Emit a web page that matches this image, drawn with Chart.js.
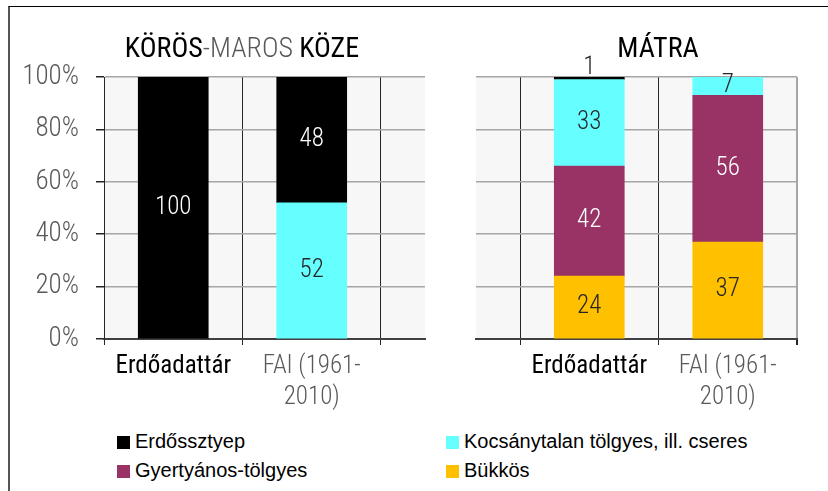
<!DOCTYPE html>
<html>
<head>
<meta charset="utf-8">
<script src="https://cdn.jsdelivr.net/npm/chart.js@4.4.1/dist/chart.umd.min.js"></script>
<style>
  body { margin: 0; background: #fff; }
  #page { position: relative; width: 828px; height: 491px; overflow: hidden; background: #fff; }
  .frame { position: absolute; left: 8px; top: 6px; width: 840px; height: 500px; border-left: 2px solid #555; border-top: 1.5px solid #000; }
  .box { position: absolute; top: 0; }
  .title { position: absolute; top: 34px; font-family: 'Roboto Condensed', Roboto; font-size: 28px; line-height: 28px; white-space: nowrap; transform: translateX(-50%); color: #000; font-weight: 400; }
  .title .light { font-weight: 300; color: #595959; }
  .item { position: absolute; font-family: 'Liberation Sans', Arial; font-size: 20px; line-height: 20px; color: #000; white-space: nowrap; }
  .item .sq { position: absolute; left: 0; top: 0; width: 13px; height: 13px; }
  .item .tx { position: absolute; left: 18px; top: -5px; }
</style>
</head>
<body>
<div id="page">
  <div class="frame"></div>
  <div class="box" style="left:0"><canvas id="koros" width="440" height="425"></canvas></div>
  <div class="box" style="left:430px"><canvas id="matra" width="398" height="425"></canvas></div>
  <div class="title" style="left:242px">KÖRÖS<span class="light">-MAROS </span>KÖZE</div>
  <div class="title" style="left:658px">MÁTRA</div>
  <div id="legend"></div>
</div>
<script>
// categories and tick labels
var categories = ['Erdőadattár', 'FAI (1961-2010)'];
var tickLabels = [['Erdőadattár'], ['FAI (1961-', '2010)']];
var yTicks = [0, 20, 40, 60, 80, 100];

// series (legend order)
var seriesNames = ['Erdőssztyep', 'Kocsánytalan tölgyes, ill. cseres', 'Gyertyános-tölgyes', 'Bükkös'];
var seriesColors = ['#000000', '#66ffff', '#993366', '#ffc000'];
var labelColors = ['#ffffff', '#262626', '#ffffff', '#262626'];

// Körös-Maros köze, % per category
var korosErdossztyep = [100, 48];
var korosKocsanytalan = [0, 52];
var korosGyertyanos = [0, 0];
var korosBukkos = [0, 0];

// Mátra, % per category
var matraErdossztyep = [1, 0];
var matraKocsanytalan = [33, 7];
var matraGyertyanos = [42, 56];
var matraBukkos = [24, 37];

var labelFont = "300 condensed 25px 'Roboto Condensed', Roboto";

function makeDatasets(values) {
  var sets = [];
  // bottom of the stack first; empty shares are left out
  [3, 2, 1, 0].forEach(function(s) {
    sets.push({
      label: seriesNames[s],
      data: values[s].map(function(v, i) { return { x: i + 1, y: v ? v : null }; }),
      backgroundColor: seriesColors[s],
      labelColor: labelColors[s],
      borderWidth: 0,
      barThickness: 70
    });
  });
  return sets;
}

var plotBackground = {
  id: 'plotBackground',
  beforeDraw: function(chart) {
    var a = chart.chartArea;
    var c = chart.ctx;
    c.save();
    c.fillStyle = '#f7f7f7';
    c.fillRect(a.left, a.top, a.right - a.left, a.bottom - a.top);
    c.restore();
  }
};

var barLabels = {
  id: 'barLabels',
  afterDatasetsDraw: function(chart) {
    var c = chart.ctx;
    c.save();
    c.font = labelFont;
    c.textAlign = 'center';
    chart.data.datasets.forEach(function(ds, di) {
      chart.getDatasetMeta(di).data.forEach(function(bar, i) {
        var v = ds.data[i].y;
        if (!v) return;
        if (bar.base - bar.y < 8) {
          c.fillStyle = '#262626';
          c.textBaseline = 'bottom';
          c.fillText(v, bar.x, bar.y + 3);
        } else {
          c.fillStyle = ds.labelColor;
          c.textBaseline = 'middle';
          c.fillText(v, bar.x, (bar.y + bar.base) / 2);
        }
      });
    });
    c.restore();
  }
};

function makeOptions(isLeft) {
  return {
    responsive: false,
    animation: false,
    layout: { padding: { top: 77, right: isLeft ? 15 : 31, left: 0, bottom: 0 } },
    plugins: { legend: { display: false }, tooltip: { enabled: false } },
    scales: {
      x: {
        type: 'linear',
        stacked: true,
        offset: false,
        min: isLeft ? 0.5 : 0.182,
        max: isLeft ? 2.818 : 2.5,
        afterBuildTicks: function(scale) {
          scale.ticks = [0.5, 1, 1.5, 2, 2.5].map(function(v) { return { value: v }; });
        },
        afterFit: function(scale) { scale.height = 86; },
        grid: {
          offset: false,
          tickLength: 6,
          color: function(ctx) {
            var v = ctx.tick.value;
            if (v % 1 === 0) return 'rgba(0,0,0,0)';
            if (!isLeft && v === 2.5) return '#a6a6a6';
            return '#262626';
          },
          lineWidth: function(ctx) { return (!isLeft && ctx.tick.value === 2.5) ? 2 : 1; },
          tickColor: function(ctx) { return ctx.tick.value % 1 === 0 ? 'rgba(0,0,0,0)' : '#262626'; }
        },
        border: { display: true, color: '#404040', width: 2 },
        ticks: {
          autoSkip: false,
          maxRotation: 0,
          padding: 6,
          callback: function(value) {
            if (value % 1 !== 0) return '';
            return tickLabels[value - 1];
          },
          color: function(ctx) { return ctx.tick.value === 1 ? '#000000' : '#595959'; },
          font: function(ctx) {
            return { family: "'Roboto Condensed', Roboto", size: 25, lineHeight: 1.25,
                     weight: ctx.tick && ctx.tick.value === 1 ? '400 condensed' : '300 condensed' };
          }
        }
      },
      y: {
        stacked: true,
        min: 0,
        max: 100,
        afterBuildTicks: function(scale) {
          scale.ticks = yTicks.map(function(v) { return { value: v }; });
        },
        afterFit: function(scale) { scale.width = isLeft ? 104 : 46; },
        grid: {
          color: function(ctx) { return ctx.tick.value === 0 ? 'rgba(0,0,0,0)' : '#a6a6a6'; },
          lineWidth: 1.5,
          tickColor: '#262626',
          tickLength: 8,
          drawTicks: isLeft
        },
        border: { display: isLeft, color: '#262626', width: 1 },
        ticks: {
          display: isLeft,
          padding: 17,
          color: '#595959',
          font: { family: "'Roboto Condensed', Roboto", size: 27, weight: '300 condensed' },
          callback: function(v) { return v + '%'; }
        }
      }
    }
  };
}

function buildLegend() {
  var legendPos = [[117, 436], [446, 436], [117, 465], [446, 465]];
  var box = document.getElementById('legend');
  seriesNames.forEach(function(name, i) {
    var item = document.createElement('div');
    item.className = 'item';
    item.style.left = legendPos[i][0] + 'px';
    item.style.top = legendPos[i][1] + 'px';
    item.innerHTML = '<span class="sq" style="background:' + seriesColors[i] + '"></span><span class="tx"></span>';
    item.querySelector('.tx').textContent = name;
    box.appendChild(item);
  });
}

function draw() {
  buildLegend();
  new Chart(document.getElementById('koros'), {
    type: 'bar',
    data: { datasets: makeDatasets([korosErdossztyep, korosKocsanytalan, korosGyertyanos, korosBukkos]) },
    options: makeOptions(true),
    plugins: [plotBackground, barLabels]
  });
  new Chart(document.getElementById('matra'), {
    type: 'bar',
    data: { datasets: makeDatasets([matraErdossztyep, matraKocsanytalan, matraGyertyanos, matraBukkos]) },
    options: makeOptions(false),
    plugins: [plotBackground, barLabels]
  });
}

if (document.fonts && document.fonts.load) {
  Promise.all([
    document.fonts.load("300 25px 'Roboto Condensed'"),
    document.fonts.load("400 25px 'Roboto Condensed'")
  ]).then(draw, draw);
} else {
  draw();
}
</script>
</body>
</html>
